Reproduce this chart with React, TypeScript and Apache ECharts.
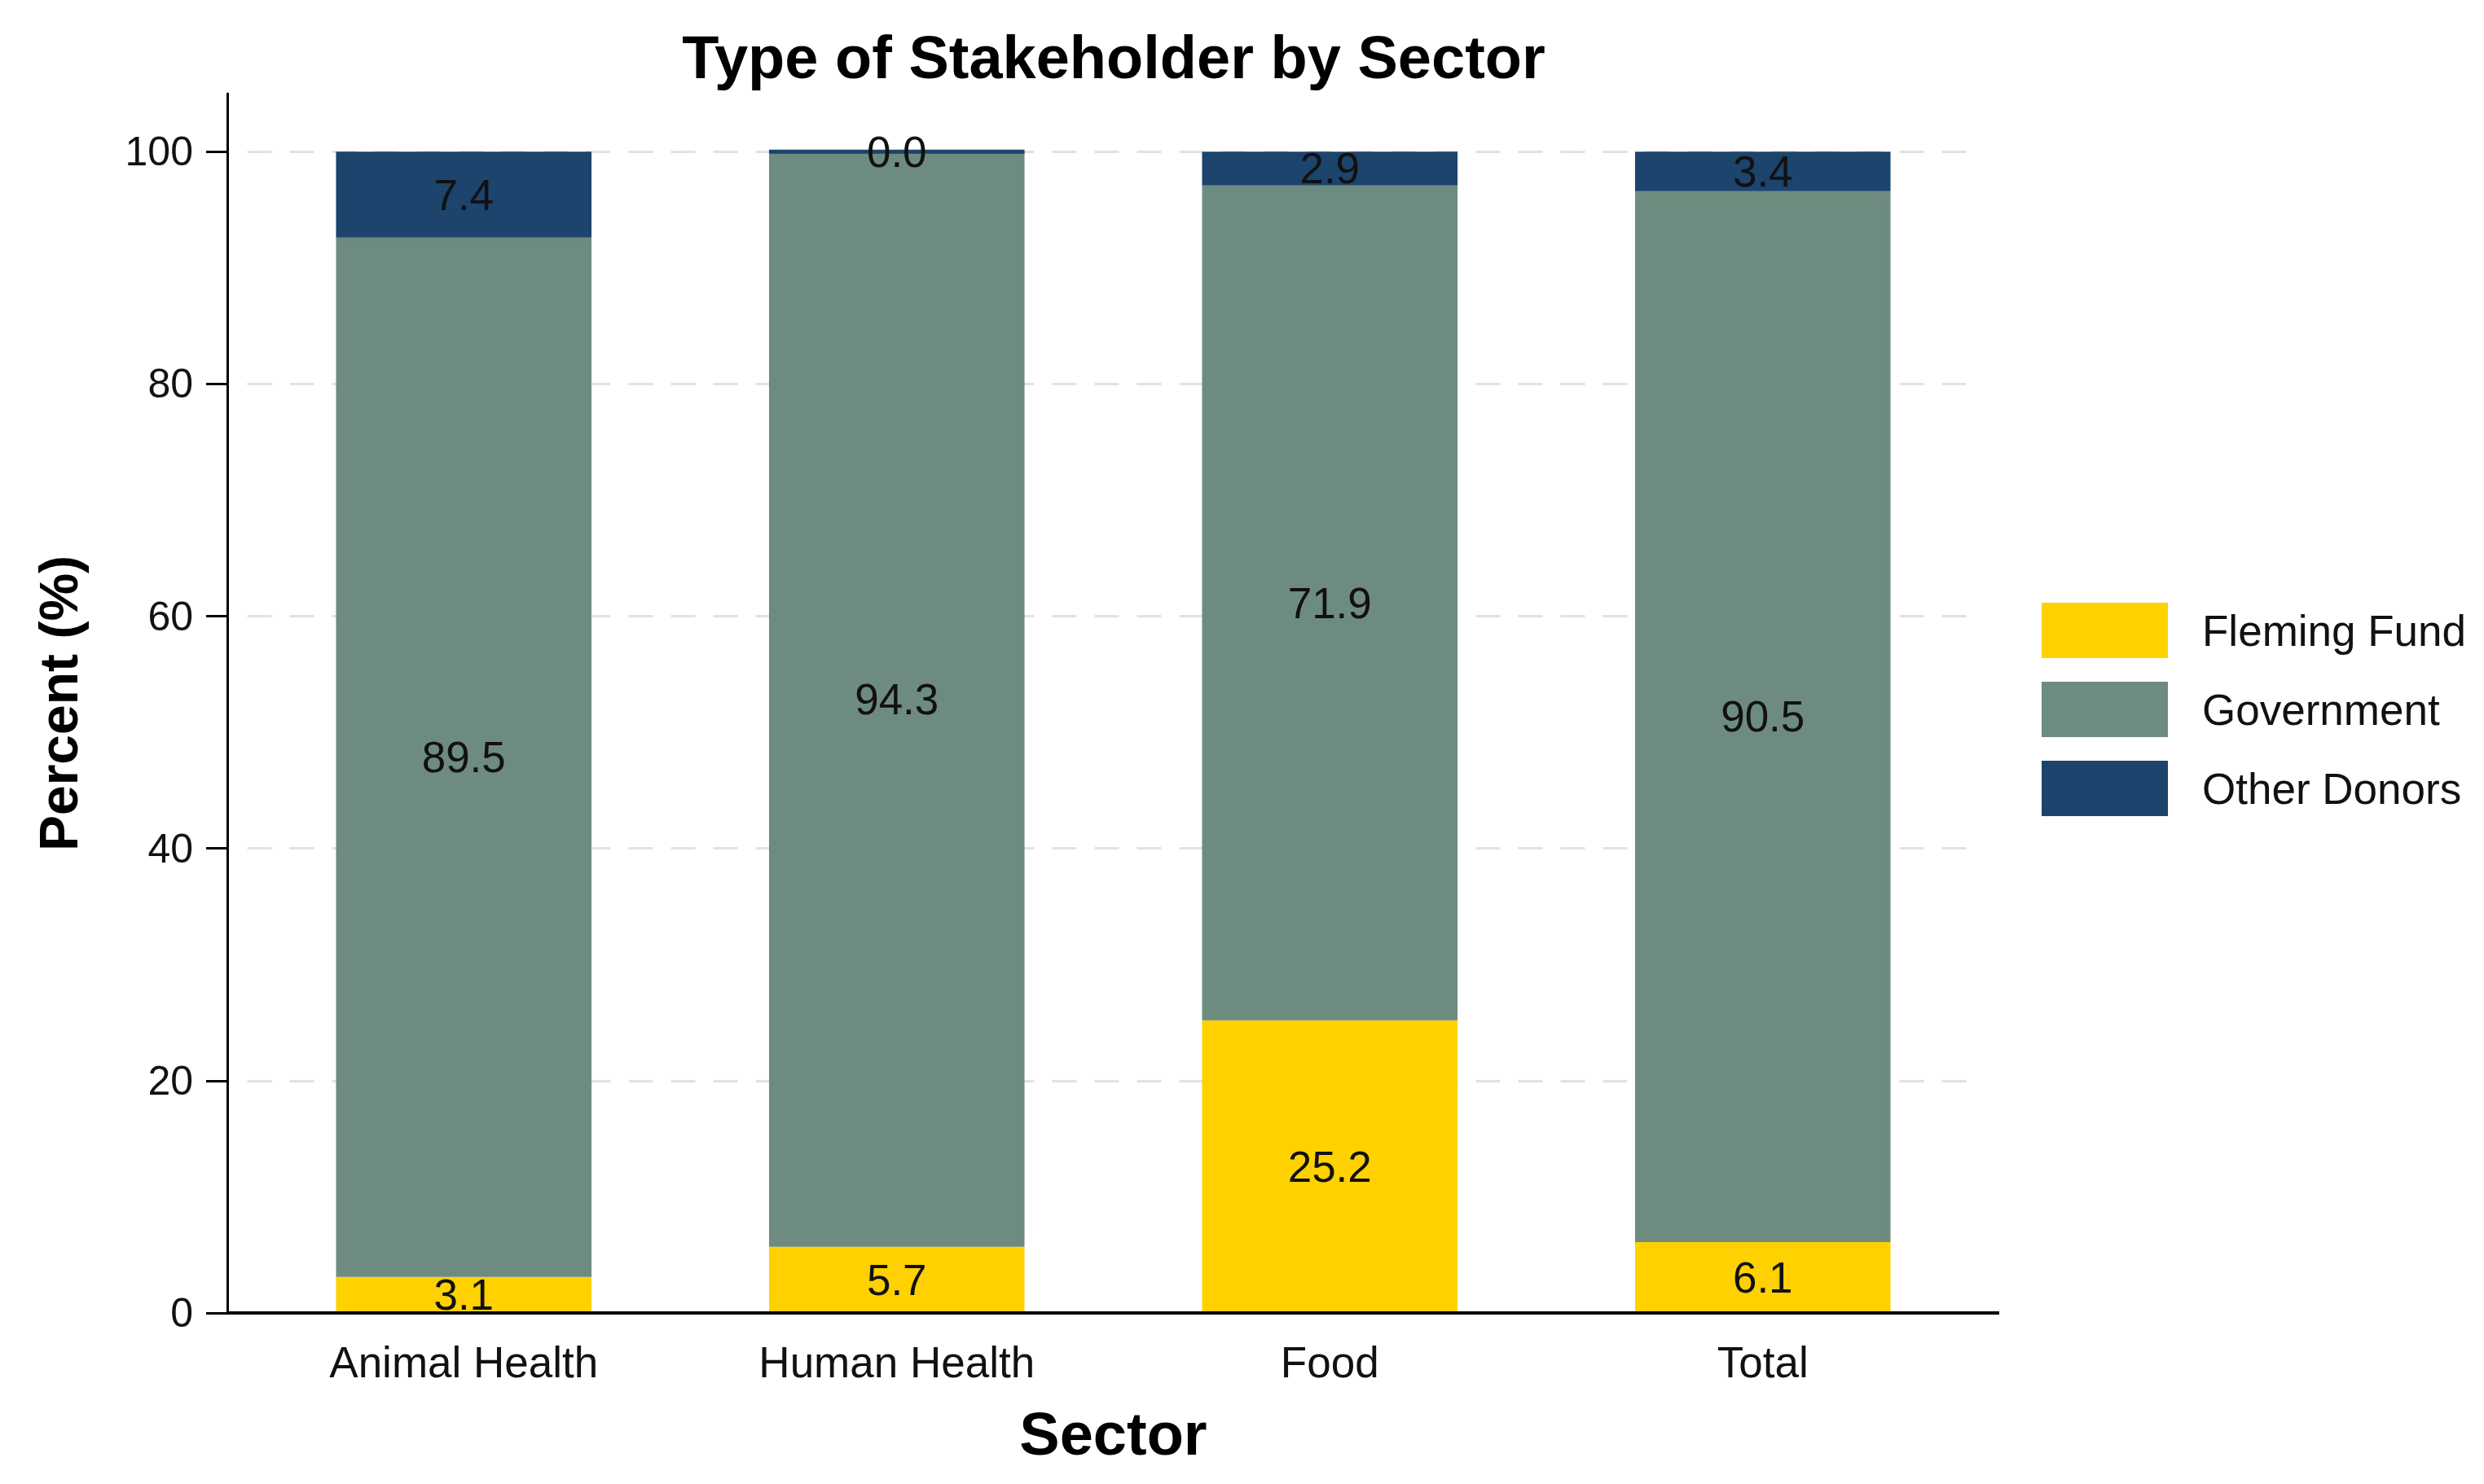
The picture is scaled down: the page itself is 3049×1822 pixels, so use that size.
import React, { useEffect, useRef } from "react";
import * as echarts from "echarts";

const categories = ["Animal Health", "Human Health", "Food", "Total"];
const flemingFund = [3.1, 5.7, 25.2, 6.1];
const government = [89.5, 94.3, 71.9, 90.5];
const otherDonors = [7.4, 0.0, 2.9, 3.4];
const yTicks = [0, 20, 40, 60, 80, 100];
const gridValues = [20, 40, 60, 80, 100];

const FONT = "Liberation Sans";

export default function App() {
  const ref = useRef<HTMLDivElement>(null);
  useEffect(() => {
    if (!ref.current) return;
    const chart = echarts.init(ref.current, undefined, { renderer: "svg" });
    const labelCfg = {
      show: true,
      position: "inside",
      fontSize: 53,
      fontFamily: FONT,
      color: "#111",
      formatter: (p: any) => Number(p.value).toFixed(1),
    };
    const mk = (name: string, data: number[], color: string, extra: any = {}) => ({
      name,
      type: "bar",
      stack: "s",
      barWidth: "59%",
      data,
      itemStyle: { color, borderColor: color, borderWidth: 5 },
      label: labelCfg,
      ...extra,
    });
    const gridLeft = 303.5;
    const gridRight = 619.5;
    const gridBottom = 210;
    chart.setOption({
      animation: false,
      backgroundColor: "#ffffff",
      title: {
        text: "Type of Stakeholder by Sector",
        left: 1367,
        top: 30,
        textAlign: "center",
        padding: 0,
        textStyle: { fontFamily: FONT, fontWeight: "bold", fontSize: 74, color: "#000", lineHeight: 80 },
      },
      legend: {
        orient: "vertical",
        left: 2506,
        top: 740,
        padding: 0,
        itemWidth: 153,
        itemHeight: 66,
        itemGap: 29,
        icon: "rect",
        data: ["Fleming Fund", "Government", "Other Donors"],
        textStyle: { fontFamily: FONT, fontSize: 53, color: "#111", padding: [0, 0, 0, 38] },
      },
      grid: { left: gridLeft, right: gridRight, top: 115, bottom: gridBottom, containLabel: false },
      graphic: [
        {
          type: "line",
          z: 10,
          shape: { x1: 279, y1: 1822 - gridBottom, x2: 2454, y2: 1822 - gridBottom },
          style: { stroke: "#000", lineWidth: 4 },
        },
      ],
      xAxis: {
        type: "category",
        data: categories,
        boundaryGap: true,
        name: "Sector",
        nameLocation: "middle",
        nameGap: 108,
        nameTextStyle: { fontFamily: FONT, fontWeight: "bold", fontSize: 74, color: "#000", lineHeight: 80 },
        axisLine: { show: false },
        axisTick: { show: false },
        splitLine: { show: false },
        axisLabel: {
          fontFamily: FONT,
          fontSize: 53,
          color: "#111",
          margin: 30,
          lineHeight: 60,
        },
      },
      yAxis: {
        type: "value",
        min: 0,
        max: 105,
        interval: 20,
        offset: gridLeft - 279,
        name: "Percent (%)",
        nameLocation: "middle",
        nameGap: 172,
        nameTextStyle: { fontFamily: FONT, fontWeight: "bold", fontSize: 66, color: "#000", lineHeight: 70 },
        axisLine: { show: true, onZero: false, lineStyle: { color: "#000", width: 3 } },
        axisTick: { show: true, customValues: yTicks, length: 26, lineStyle: { color: "#000", width: 3 } },
        splitLine: { show: false },
        axisLabel: {
          customValues: yTicks,
          fontFamily: FONT,
          fontSize: 50,
          color: "#111",
          margin: 42,
        },
      },
      series: [
        mk("Fleming Fund", flemingFund, "#FFD100", {
          markLine: {
            silent: true,
            z: 1,
            symbol: ["none", "none"],
            label: { show: false },
            lineStyle: { color: "#e2e2e2", type: [30, 22], width: 3 },
            data: gridValues.map((v) => ({ yAxis: v })),
          },
        }),
        mk("Government", government, "#6E8B80"),
        mk("Other Donors", otherDonors, "#1C446D"),
      ],
    });
    return () => chart.dispose();
  }, []);
  return (
    <div
      ref={ref}
      style={{ position: "absolute", left: 0, top: 0, width: 3049, height: 1822 }}
    />
  );
}
